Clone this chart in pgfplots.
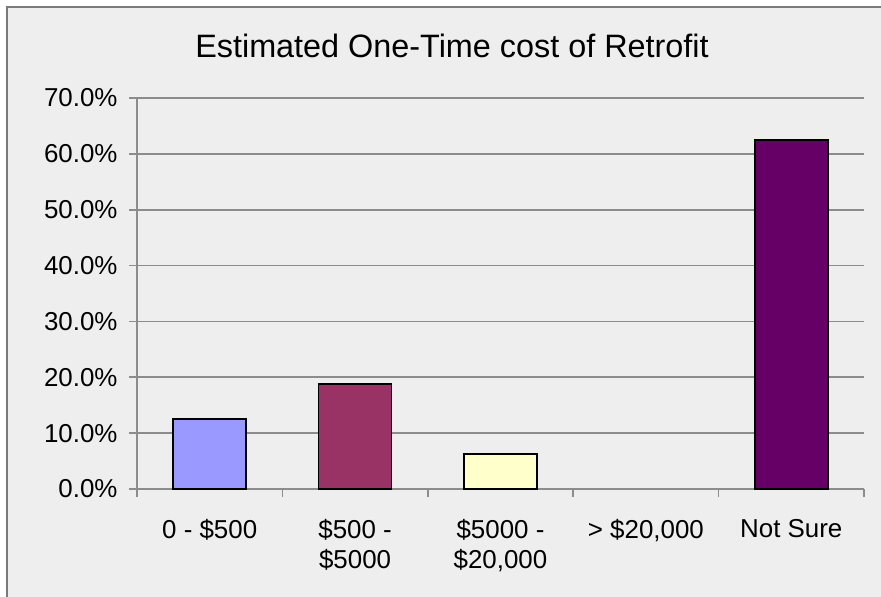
\documentclass[border=0pt]{standalone}
\usepackage{fontspec}
\setmainfont{Liberation Sans}
\usepackage{pgfplots}
\pgfplotsset{compat=1.18}
\definecolor{bgcol}{HTML}{EEEEEE}
\definecolor{gridcol}{HTML}{8C8C8C}
\definecolor{frame}{HTML}{7A7A7A}
\definecolor{cA}{HTML}{9999FF}
\definecolor{cB}{HTML}{993366}
\definecolor{cC}{HTML}{FFFFCC}
\definecolor{cE}{HTML}{660066}
\begin{document}
\begin{tikzpicture}
\useasboundingbox (-137bp,-108bp) rectangle (744bp,489bp);
\fill[white] (-137bp,-108bp) rectangle (744bp,489bp);
\fill[bgcol] (-129.5bp,-108bp) rectangle (744bp,481.5bp);
\draw[frame, line width=2bp] (-129.5bp,-108bp) -- (-129.5bp,481.5bp) -- (744bp,481.5bp);
\node[anchor=base, font=\fontsize{32.5}{38}\selectfont] at (315bp,431bp) {Estimated One-Time cost of Retrofit};
\begin{axis}[
  at={(0,0)}, anchor=south west,
  scale only axis, width=727bp, height=391bp,
  ybar,
  xmin=-0.5, xmax=4.5, ymin=0, ymax=70,
  axis x line*=bottom, axis y line*=left,
  axis line style={gridcol, line width=1.6bp},
  ymajorgrids, grid style={gridcol, line width=1.6bp},
  ytick={0,10,...,70},
  yticklabels={0.0\%,10.0\%,20.0\%,30.0\%,40.0\%,50.0\%,60.0\%,70.0\%},
  xtick={-0.5,0.5,1.5,2.5,3.5,4.5},
  xticklabels={{0 - \$500},{\$500 -\\\$5000},{\$5000 -\\\$20,000},{> \$20,000},{Not Sure},{}},
  xticklabel style={xshift=72.7bp, align=center, anchor=north, yshift=-19bp, font=\fontsize{26}{30}\selectfont},
  yticklabel style={font=\fontsize{26}{30}\selectfont, anchor=east, xshift=-8bp},
  tick align=outside, major tick length=8bp,
  tick style={gridcol, line width=1.6bp},
  clip=false,
]
\addplot[fill=cA, draw=black, line width=1.6bp, bar width=73bp, bar shift=0pt] coordinates {(0,12.5)};
\addplot[fill=cB, draw=black, line width=1.6bp, bar width=73bp, bar shift=0pt] coordinates {(1,18.75)};
\addplot[fill=cC, draw=black, line width=1.6bp, bar width=73bp, bar shift=0pt] coordinates {(2,6.25)};
\addplot[draw=none, fill=none, bar width=73bp, bar shift=0pt] coordinates {(3,0)};
\addplot[fill=cE, draw=black, line width=1.6bp, bar width=73bp, bar shift=0pt] coordinates {(4,62.5)};
\end{axis}
\end{tikzpicture}
\end{document}
